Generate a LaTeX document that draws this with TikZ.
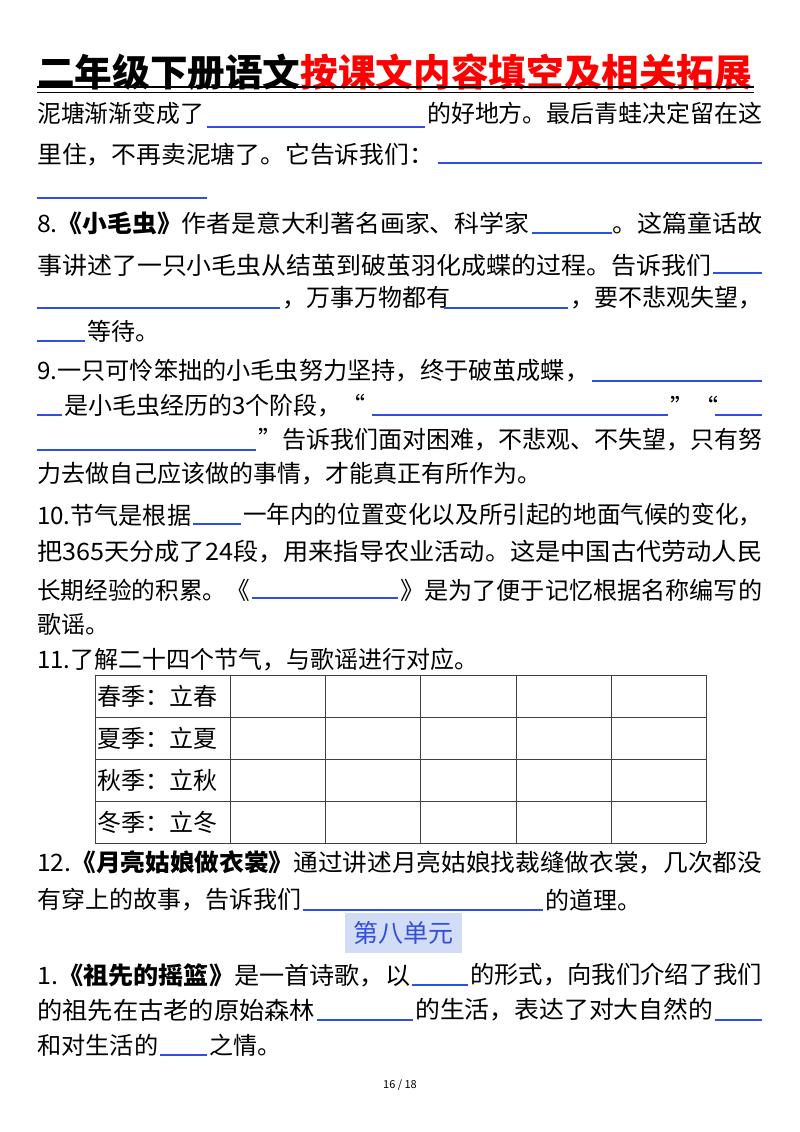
\documentclass[tikz,border=0pt]{standalone}
\usepackage{fontspec}
\usepackage{graphicx}
\setmainfont{Noto Sans CJK SC}
\definecolor{ulb}{HTML}{2F4FE0}
\definecolor{boxb}{HTML}{D3DCF7}
\definecolor{titr}{HTML}{FF0000}
\newcommand{\fb}[2]{\resizebox{#1pt}{\height}{#2}}
\begin{document}
\begin{tikzpicture}[x=1pt,y=-1pt,
  t/.style={anchor=west,inner sep=0pt,font=\fontsize{24}{25}\selectfont},
  ul/.style={draw=ulb,line width=1.3pt},
  grid/.style={draw=black!75,line width=0.8pt}]
\useasboundingbox (0,0) rectangle (800,1132);
\fill[white] (0,0) rectangle (800,1132);
% title
\node[t,font=\fontsize{37.5}{39}\selectfont\bfseries] (title) at (37,72) {\fb{715}{二年级下册语文\textcolor{titr}{按课文内容填空及相关拓展}}};
\draw[line width=2.2pt] (37,87) -- (754,87);
\draw[line width=1pt] (37,92.5) -- (754,92.5);
% lines
\node[t] (a1) at (37,113) {\fb{167}{泥塘渐渐变成了}};
\draw[ul] (207,127) -- (425,127);
\node[t] (a2) at (427,113) {\fb{335}{的好地方。最后青蛙决定留在这}};
\node[t] (a3) at (37,155) {\fb{397}{里住，不再卖泥塘了。它告诉我们：}};
\draw[ul] (438,163) -- (762,163);
\draw[ul] (37,198) -- (207,198);
\node[t] (b1) at (37,223) {\fb{492}{8.\textbf{《小毛虫》}作者是意大利著名画家、科学家}};
\draw[ul] (532,233) -- (612,233);
\node[t] (b2) at (612,223) {\fb{150}{。这篇童话故}};
\node[t] (b3) at (37,265) {\fb{674}{事讲述了一只小毛虫从结茧到破茧羽化成蝶的过程。告诉我们}};
\draw[ul] (713,273) -- (762,273);
\draw[ul] (37,308) -- (280,308);
\node[t] (b4) at (282,298) {，万事万物都有};
\draw[ul] (444,308) -- (568,308);
\node[t] (b5) at (570,298) {\fb{192}{，要不悲观失望，}};
\draw[ul] (37,341) -- (85,341);
\node[t] (b6) at (87,331) {等待。};
\node[t] (c1) at (37,371) {\fb{552}{9.一只可怜笨拙的小毛虫努力坚持，终于破茧成蝶，}};
\draw[ul] (592,381) -- (762,381);
\draw[ul] (37,415) -- (62,415);
\node[t] (c2) at (64,406) {是小毛虫经历的3个阶段，“};
\draw[ul] (372,415) -- (668,415);
\node[t] (c3) at (670,406) {”“};
\draw[ul] (715,415) -- (762,415);
\draw[ul] (37,450) -- (256,450);
\node[t] (c4) at (258,440) {\fb{504}{”告诉我们面对困难，不悲观、不失望，只有努}};
\node[t] (c5) at (37,474) {力去做自己应该做的事情，才能真正有所作为。};
\node[t] (d1) at (37,515) {\fb{154}{10.节气是根据}};
\draw[ul] (193,524) -- (241,524);
\node[t] (d2) at (243,515) {\fb{519}{一年内的位置变化以及所引起的地面气候的变化，}};
\node[t] (d3) at (37,552) {\fb{725}{把365天分成了24段，用来指导农业活动。这是中国古代劳动人民}};
\node[t] (d4) at (37,590) {\fb{213}{长期经验的积累。《}};
\draw[ul] (252,598) -- (398,598);
\node[t] (d5) at (400,590) {\fb{362}{》是为了便于记忆根据名称编写的}};
\node[t] (d6) at (37,624) {歌谣。};
\node[t] (e1) at (37,660) {11.了解二十四个节气，与歌谣进行对应。};
% table
\foreach \y in {675,717,759,801,843} \draw[grid] (95,\y) -- (706,\y);
\foreach \x in {95,230,325,420,516,611,706} \draw[grid] (\x,675) -- (\x,843);
\node[t] (r1) at (97,696) {春季：立春};
\node[t] (r2) at (97,738) {夏季：立夏};
\node[t] (r3) at (97,780) {秋季：立秋};
\node[t] (r4) at (97,822) {冬季：立冬};
\node[t] (f1) at (37,862) {\fb{725}{12.\textbf{《月亮姑娘做衣裳》}通过讲述月亮姑娘找裁缝做衣裳，几次都没}};
\node[t] (f2) at (37,900) {\fb{264}{有穿上的故事，告诉我们}};
\draw[ul] (303,910) -- (543,910);
\node[t] (f3) at (545,900) {的道理。};
\node[fill=boxb,text=ulb,minimum width=117pt,minimum height=40pt,inner sep=0pt,font=\fontsize{25}{26}\selectfont] (unit) at (403.5,933) {第八单元};
\node[t] (g1) at (37,975) {\fb{373}{1.\textbf{《祖先的摇篮》}是一首诗歌，以}};
\draw[ul] (412,985) -- (468,985);
\node[t] (g2) at (470,975) {\fb{292}{的形式，向我们介绍了我们}};
\node[t] (g3) at (37,1010) {\fb{278}{的祖先在古老的原始森林}};
\draw[ul] (317,1020) -- (413,1020);
\node[t] (g4) at (415,1010) {\fb{298}{的生活，表达了对大自然的}};
\draw[ul] (715,1020) -- (762,1020);
\node[t] (g5) at (37,1045) {\fb{121}{和对生活的}};
\draw[ul] (160,1055) -- (207,1055);
\node[t] (g6) at (209,1045) {之情。};
\node[inner sep=0pt,font=\fontsize{11}{12}\selectfont] (pg) at (400,1085) {16 / 18};
\end{tikzpicture}
\end{document}
